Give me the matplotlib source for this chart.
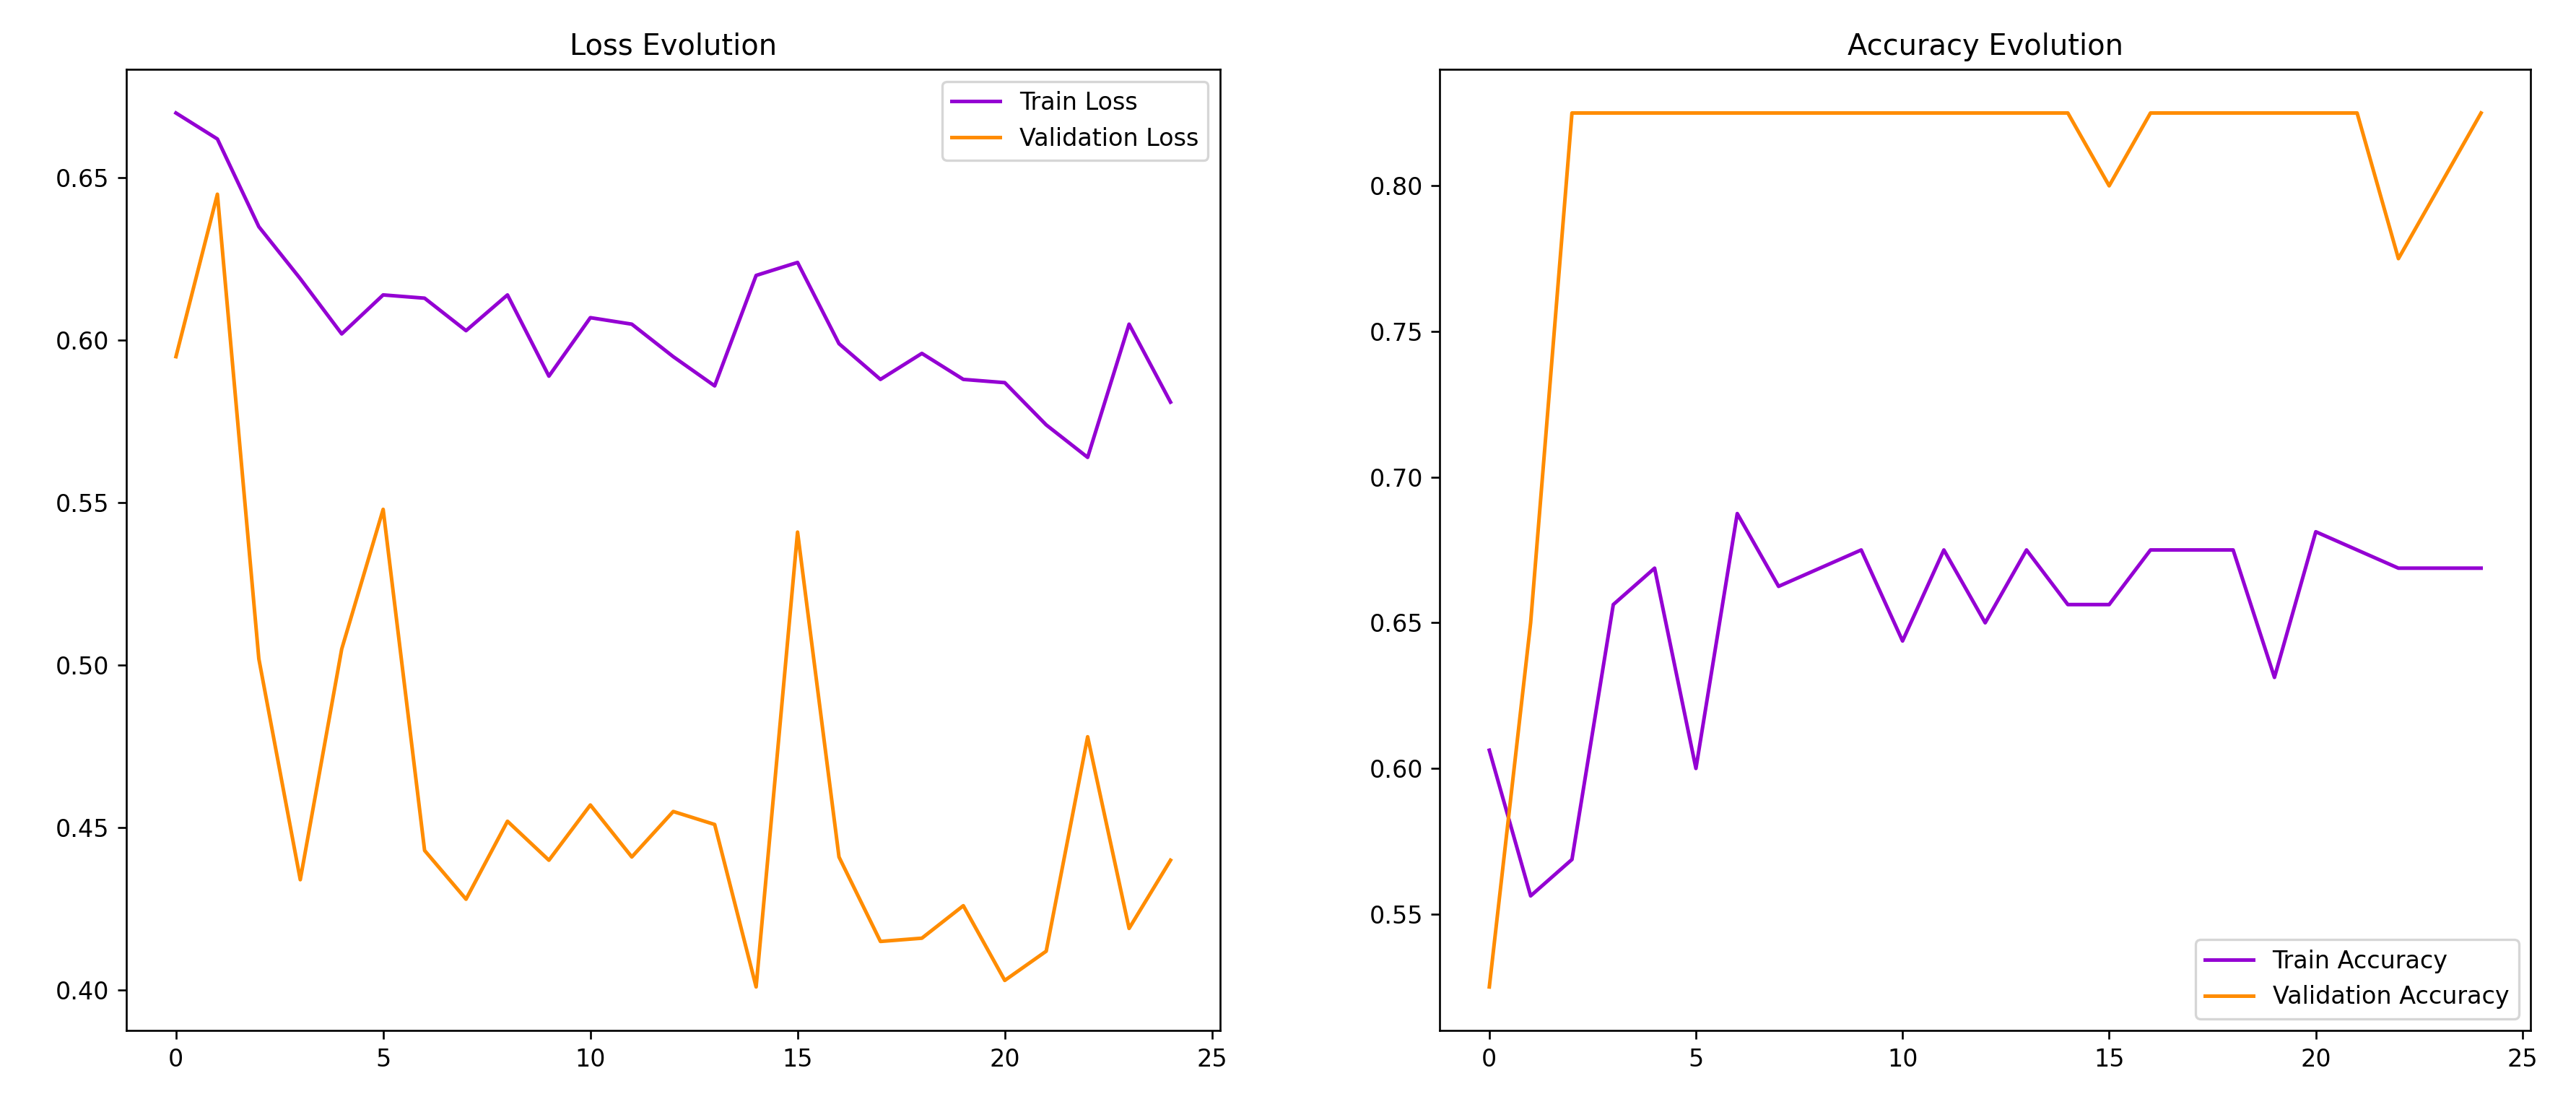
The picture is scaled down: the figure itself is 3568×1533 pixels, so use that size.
import matplotlib
matplotlib.use("Agg")
import matplotlib.pyplot as plt

epochs = list(range(25))

train_loss = [0.670, 0.662, 0.635, 0.619, 0.602, 0.614, 0.613, 0.603, 0.614, 0.589,
              0.607, 0.605, 0.595, 0.586, 0.620, 0.624, 0.599, 0.588, 0.596, 0.588,
              0.587, 0.574, 0.564, 0.605, 0.581]
val_loss = [0.595, 0.645, 0.502, 0.434, 0.505, 0.548, 0.443, 0.428, 0.452, 0.440,
            0.457, 0.441, 0.455, 0.451, 0.401, 0.541, 0.441, 0.415, 0.416, 0.426,
            0.403, 0.412, 0.478, 0.419, 0.440]

train_acc = [0.60625, 0.55625, 0.56875, 0.65625, 0.66875, 0.600, 0.6875, 0.6625, 0.66875, 0.675,
             0.64375, 0.675, 0.650, 0.675, 0.65625, 0.65625, 0.675, 0.675, 0.675, 0.63125,
             0.68125, 0.675, 0.66875, 0.66875, 0.66875]
val_acc = [0.525, 0.650, 0.825, 0.825, 0.825, 0.825, 0.825, 0.825, 0.825, 0.825,
           0.825, 0.825, 0.825, 0.825, 0.825, 0.800, 0.825, 0.825, 0.825, 0.825,
           0.825, 0.825, 0.775, 0.800, 0.825]

fig = plt.figure(figsize=(3568 / 240, 1533 / 240), dpi=240)

ax1 = fig.add_axes([0.049, 0.069, 0.4247, 0.8684])
ax1.plot(epochs, train_loss, color="darkviolet", label="Train Loss")
ax1.plot(epochs, val_loss, color="darkorange", label="Validation Loss")
ax1.set_title("Loss Evolution")
ax1.legend(loc="upper right")

ax2 = fig.add_axes([0.5589, 0.069, 0.4235, 0.8684])
ax2.plot(epochs, train_acc, color="darkviolet", label="Train Accuracy")
ax2.plot(epochs, val_acc, color="darkorange", label="Validation Accuracy")
ax2.set_title("Accuracy Evolution")
ax2.legend(loc="lower right")

fig.savefig("out.png", dpi=240)
